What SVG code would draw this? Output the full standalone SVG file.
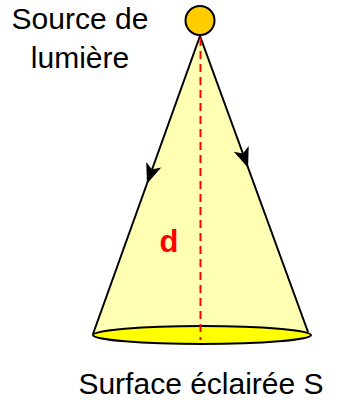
<svg xmlns="http://www.w3.org/2000/svg" width="339" height="400" viewBox="0 0 339 400">
<style>
.lbl{font-family:"Liberation Sans",Arial,sans-serif;font-size:30px;fill:#000;text-anchor:middle}
.edge{stroke:#000;stroke-width:2;fill:none}
</style>
<defs>
<marker id="ah" viewBox="0 0 20 16" refX="14" refY="8" markerWidth="20" markerHeight="16" markerUnits="userSpaceOnUse" orient="auto">
<path d="M0,0 L20,8 L0,16 L5,8 z" fill="#000"/>
</marker>
</defs>
<g id="cone">
<polygon points="200,36 93,334 308,332" fill="#FFFFB3"/>
<ellipse cx="202" cy="335" rx="109" ry="9" fill="#FFFF00" stroke="#000" stroke-width="2"/>
</g>
<g id="connectors">
<path class="edge" d="M200,36 L149,178" marker-end="url(#ah)"/>
<path class="edge" d="M149,178 L93,334"/>
<path class="edge" d="M200,36 L246,162" marker-end="url(#ah)"/>
<path class="edge" d="M246,162 L308,332"/>
<line x1="200.5" y1="38" x2="200.5" y2="340" stroke="#FF0000" stroke-width="2" stroke-dasharray="8,5"/>
</g>
<g id="source">
<circle cx="200" cy="20.5" r="14.5" fill="#FFCC00" stroke="#000" stroke-width="2"/>
<text class="lbl" x="80" y="29" font-size="31">Source de</text>
<text class="lbl" x="80" y="68">lumière</text>
</g>
<g id="distance">
<text x="169" y="252" font-family="'Liberation Sans',Arial,sans-serif" font-size="31" font-weight="bold" fill="#FF0000" text-anchor="middle">d</text>
</g>
<g id="surface">
<text class="lbl" x="201" y="394">Surface éclairée S</text>
</g>
</svg>
